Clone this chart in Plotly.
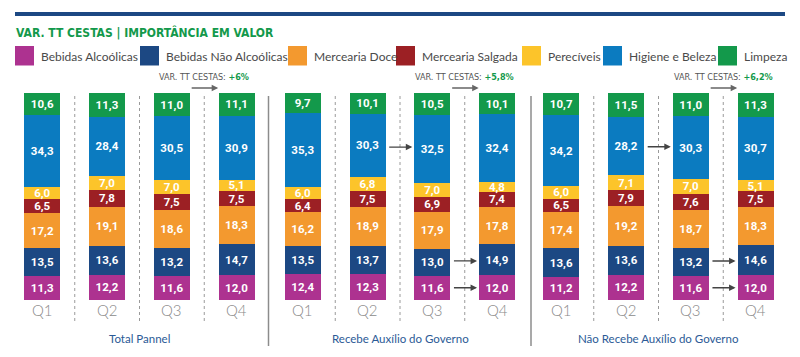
import plotly.graph_objects as go

# ---------------- data ----------------
quarters = ["Q1", "Q2", "Q3", "Q4"]
categories = ["Bebidas Alcoólicas", "Bebidas Não Alcoólicas", "Mercearia Doce",
              "Mercearia Salgada", "Perecíveis", "Higiene e Beleza", "Limpeza"]
colors = ["#ad3290", "#1c4883", "#f3992f", "#9c2024", "#fcc42a", "#0b7bc0", "#13994b"]
groups = ["Total Pannel", "Recebe Auxílio do Governo", "Não Recebe Auxílio do Governo"]
var_labels = ["+6%", "+5,8%", "+6,2%"]

# values per group, per category (Q1..Q4)
total_pannel = {
    "Bebidas Alcoólicas":     [11.3, 12.2, 11.6, 12.0],
    "Bebidas Não Alcoólicas": [13.5, 13.6, 13.2, 14.7],
    "Mercearia Doce":         [17.2, 19.1, 18.6, 18.3],
    "Mercearia Salgada":      [6.5, 7.8, 7.5, 7.5],
    "Perecíveis":             [6.0, 7.0, 7.0, 5.1],
    "Higiene e Beleza":       [34.3, 28.4, 30.5, 30.9],
    "Limpeza":                [10.6, 11.3, 11.0, 11.1],
}
recebe = {
    "Bebidas Alcoólicas":     [12.4, 12.3, 11.6, 12.0],
    "Bebidas Não Alcoólicas": [13.5, 13.7, 13.0, 14.9],
    "Mercearia Doce":         [16.2, 18.9, 17.9, 17.8],
    "Mercearia Salgada":      [6.4, 7.5, 6.9, 7.4],
    "Perecíveis":             [6.0, 6.8, 7.0, 4.8],
    "Higiene e Beleza":       [35.3, 30.3, 32.5, 32.4],
    "Limpeza":                [9.7, 10.1, 10.5, 10.1],
}
nao_recebe = {
    "Bebidas Alcoólicas":     [11.2, 12.2, 11.6, 12.0],
    "Bebidas Não Alcoólicas": [13.6, 13.6, 13.2, 14.6],
    "Mercearia Doce":         [17.4, 19.2, 18.7, 18.3],
    "Mercearia Salgada":      [6.5, 7.9, 7.6, 7.5],
    "Perecíveis":             [6.0, 7.1, 7.0, 5.1],
    "Higiene e Beleza":       [34.2, 28.2, 30.3, 30.7],
    "Limpeza":                [10.7, 11.5, 11.0, 11.3],
}
group_data = [total_pannel, recebe, nao_recebe]

# highlighted changes: (group index, category, from quarter index)
change_arrows = [
    (1, "Higiene e Beleza", 1), (1, "Bebidas Não Alcoólicas", 2), (1, "Bebidas Alcoólicas", 2),
    (2, "Higiene e Beleza", 1), (2, "Bebidas Não Alcoólicas", 2), (2, "Bebidas Alcoólicas", 2),
]

# ---------------- layout helpers ----------------
W, H = 800, 357
def px(x):
    return x / W
def py(y):
    return (H - y) / H

group_left = [10, 270.5, 529]
group_w = 259
bar_top, bar_bottom = 93, 300
ymax = 99.5

COND_FONT = "DejaVu Sans Condensed, Liberation Sans Narrow, Roboto, sans-serif"
LABEL_FONT = "Roboto, Open Sans, sans-serif"
TEXT_FONT = "Lato, Open Sans, sans-serif"

fig = go.Figure()

for gi, gdata in enumerate(group_data):
    xa = "x" if gi == 0 else f"x{gi+1}"
    ya = "y" if gi == 0 else f"y{gi+1}"
    for ci, cat in enumerate(categories):
        vals = gdata[cat]
        fig.add_trace(go.Bar(
            x=quarters, y=vals, name=cat, marker_color=colors[ci],
            marker_line_width=0,
            text=[f"{v:.1f}".replace(".", ",") for v in vals],
            textposition="inside", insidetextanchor="middle", textangle=0,
            constraintext="none",
            textfont=dict(color="white", size=11.5, family=LABEL_FONT, weight="bold"),
            xaxis=xa, yaxis=ya, showlegend=False, hoverinfo="skip",
        ))

layout_axes = {}
for gi in range(3):
    sfx = "" if gi == 0 else str(gi + 1)
    layout_axes[f"xaxis{sfx}"] = dict(
        domain=[px(group_left[gi]), px(group_left[gi] + group_w)],
        anchor=f"y{sfx}", showgrid=False, zeroline=False, showline=False, ticks="",
        showticklabels=False,
        categoryorder="array", categoryarray=quarters, fixedrange=True,
    )
    layout_axes[f"yaxis{sfx}"] = dict(
        domain=[py(bar_bottom), py(bar_top)], anchor=f"x{sfx}",
        range=[0, ymax], visible=False, fixedrange=True,
    )

shapes = []
annotations = []

# top rule
shapes.append(dict(type="line", xref="paper", yref="paper", x0=px(15), x1=px(785),
                   y0=py(14), y1=py(14), line=dict(color="#1c4883", width=4)))
# title
annotations.append(dict(xref="paper", yref="paper", x=px(14), y=py(32), xanchor="left",
                        yanchor="middle", showarrow=False,
                        text="<b>VAR. TT CESTAS | IMPORTÂNCIA EM VALOR</b>",
                        font=dict(size=12, color="#13994b", family=COND_FONT)))

# legend (manual, big squares)
sq_left = [15, 140, 288, 396, 522, 603, 718]
for ci, cat in enumerate(categories):
    shapes.append(dict(type="rect", xref="paper", yref="paper",
                       x0=px(sq_left[ci]), x1=px(sq_left[ci] + 19),
                       y0=py(65.5), y1=py(46), fillcolor=colors[ci], line_width=0))
    annotations.append(dict(xref="paper", yref="paper", x=px(sq_left[ci] + 24), y=py(56),
                            xanchor="left", yanchor="middle", showarrow=False, text=cat,
                            font=dict(size=12, color="#4a4a4a", family=TEXT_FONT)))

for gi in range(3):
    xa = "x" if gi == 0 else f"x{gi+1}"
    # dotted separators between quarters
    for k in range(3):
        shapes.append(dict(type="line", xref=xa, yref="paper", x0=k + 0.5, x1=k + 0.5,
                           y0=py(321), y1=py(94),
                           line=dict(color="#9a9a9a", width=1, dash="dot")))
    # quarter labels
    for q in quarters:
        annotations.append(dict(xref=xa, yref="paper", x=q, y=py(310),
                                xanchor="center", yanchor="middle", showarrow=False,
                                text=q, font=dict(size=15, color="#8a8a8a", family=TEXT_FONT,
                                                  weight=300)))
    # group title
    annotations.append(dict(xref="paper", yref="paper",
                            x=px(group_left[gi] + group_w / 2), y=py(338),
                            xanchor="center", yanchor="middle", showarrow=False,
                            text=groups[gi],
                            font=dict(size=11.5, color="#2b5a96", family=TEXT_FONT)))
    # VAR label + arrow above Q3-Q4
    annotations.append(dict(xref=xa, yref="paper", x=2.5, y=py(77),
                            xanchor="center", yanchor="middle", showarrow=False,
                            text=f"VAR. TT CESTAS: <b><span style='color:#13994b'>{var_labels[gi]}</span></b>",
                            font=dict(size=9, color="#555555", family=COND_FONT)))
    annotations.append(dict(xref=xa, yref="paper", x=2.715, y=py(88),
                            axref="pixel", ayref="pixel", ax=-28, ay=0,
                            text="", showarrow=True, arrowhead=2, arrowsize=1,
                            arrowwidth=1.3, arrowcolor="#666666"))

for sx in [268.5, 531]:
    shapes.append(dict(type="line", xref="paper", yref="paper", x0=px(sx), x1=px(sx),
                       y0=py(346), y1=py(96), line=dict(color="#8c8c8c", width=1.5)))

# change arrows between bars
for gi, cat, q in change_arrows:
    xa = "x" if gi == 0 else f"x{gi+1}"
    ya = "y" if gi == 0 else f"y{gi+1}"
    ci = categories.index(cat)
    gdata = group_data[gi]
    mids = []
    for qq in (q, q + 1):
        below = sum(gdata[categories[k]][qq] for k in range(ci))
        mids.append(below + gdata[cat][qq] / 2)
    yv = sum(mids) / 2
    annotations.append(dict(xref=xa, yref=ya, x=q + 1 - 0.31, y=yv,
                            axref=xa, ayref=ya, ax=q + 0.31, ay=yv,
                            text="", showarrow=True, arrowhead=2, arrowsize=1,
                            arrowwidth=1.3, arrowcolor="#444444"))

fig.update_layout(
    width=W, height=H, margin=dict(l=0, r=0, t=0, b=0),
    paper_bgcolor="white", plot_bgcolor="white",
    barmode="stack", bargap=0.445, showlegend=False,
    shapes=shapes, annotations=annotations, **layout_axes,
)

fig.write_html("out.html", config={"displayModeBar": False},
               post_script="document.body.style.margin='0';document.body.style.overflow='hidden';")
